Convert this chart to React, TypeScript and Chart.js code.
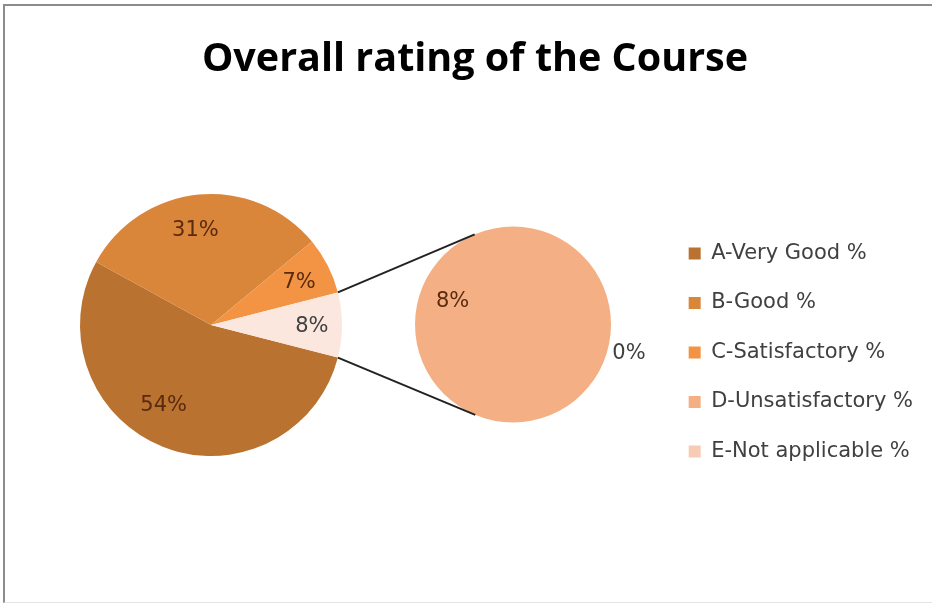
import React, { useEffect, useRef } from 'react';
import { Chart, registerables } from 'chart.js';

Chart.register(...registerables);

const W = 932;
const H = 604;

const TITLE = 'Overall rating of the Course';
const categories = ['A-Very Good %', 'B-Good %', 'C-Satisfactory %', 'D-Unsatisfactory %', 'E-Not applicable %'];
const values = [54, 31, 7, 8, 0];
const categoryColors = ['#B9722F', '#D9853A', '#F39444', '#F4B084', '#F7CBB4'];
// Pie-of-pie: the last N categories are moved into the secondary pie
const secondaryCount = 2;
const otherLabel = 'Other';
const otherColor = '#FBE7DE';

const primaryLabels = [...categories.slice(0, categories.length - secondaryCount), otherLabel];
const primaryValues = [
  ...values.slice(0, values.length - secondaryCount),
  values.slice(values.length - secondaryCount).reduce((a, b) => a + b, 0),
];
const primaryColors = [...categoryColors.slice(0, categoryColors.length - secondaryCount), otherColor];
const secondaryLabels = categories.slice(categories.length - secondaryCount);
const secondaryValues = values.slice(values.length - secondaryCount);
const secondaryColors = categoryColors.slice(categoryColors.length - secondaryCount);

const LABEL_FONT = '21px "DejaVu Sans"';
const DARK = '#5A2A0E';
const GRAY = '#404040';

type Place = { shift: number; f: number; color: string };

function makeLabelPlugin(id: string, places: Place[]) {
  return {
    id,
    afterDatasetsDraw(chart: any) {
      const meta = chart.getDatasetMeta(0);
      const data = chart.data.datasets[0].data as number[];
      const ctx = chart.ctx as CanvasRenderingContext2D;
      ctx.save();
      ctx.font = LABEL_FONT;
      ctx.textAlign = 'center';
      ctx.textBaseline = 'middle';
      meta.data.forEach((arc: any, i: number) => {
        const p = arc.getProps(['x', 'y', 'startAngle', 'endAngle', 'outerRadius'], true);
        const pl = places[i];
        const mid = (p.startAngle + p.endAngle) / 2 + (pl.shift * Math.PI) / 180;
        const r = p.outerRadius * pl.f;
        ctx.fillStyle = pl.color;
        ctx.fillText(`${data[i]}%`, p.x + r * Math.cos(mid), p.y + r * Math.sin(mid));
      });
      ctx.restore();
    },
  };
}

function makeConnectorPlugin(getSecondary: () => any) {
  return {
    id: 'connectors',
    afterDraw(chart: any) {
      const sec = getSecondary();
      if (!sec) return;
      const meta = chart.getDatasetMeta(0);
      const other = meta.data[meta.data.length - 1];
      const p = other.getProps(['x', 'y', 'startAngle', 'endAngle', 'outerRadius'], true);
      const s = sec.getDatasetMeta(0).data[0].getProps(['x', 'y', 'outerRadius'], true);
      const ends = [
        { a: p.startAngle, upper: true },
        { a: p.endAngle, upper: false },
      ];
      const ctx = chart.ctx as CanvasRenderingContext2D;
      ctx.save();
      ctx.strokeStyle = '#222222';
      ctx.lineWidth = 2;
      ends.forEach(({ a, upper }) => {
        const x0 = p.x + p.outerRadius * Math.cos(a);
        const y0 = p.y + p.outerRadius * Math.sin(a);
        const dx = x0 - s.x;
        const dy = y0 - s.y;
        const d = Math.hypot(dx, dy);
        const phi = Math.atan2(dy, dx);
        const t = Math.acos(Math.min(1, s.outerRadius / d));
        const ang = upper ? phi + t : phi - t;
        ctx.beginPath();
        ctx.moveTo(x0, y0);
        ctx.lineTo(s.x + s.outerRadius * Math.cos(ang), s.y + s.outerRadius * Math.sin(ang));
        ctx.stroke();
      });
      ctx.restore();
    },
  };
}

export default function App() {
  const frameRef = useRef<HTMLCanvasElement>(null);
  const secRef = useRef<HTMLCanvasElement>(null);
  const mainRef = useRef<HTMLCanvasElement>(null);

  useEffect(() => {
    document.body.style.margin = '0';

    const frame = new Chart(frameRef.current!, {
      type: 'pie',
      data: {
        labels: categories,
        datasets: [{ data: values, backgroundColor: categoryColors, borderWidth: 0, hidden: true }],
      },
      options: {
        responsive: false,
        animation: false,
        layout: { padding: { left: 27, right: 9, top: 36.5, bottom: 2 } },
        plugins: {
          tooltip: { enabled: false },
          title: {
            display: true,
            text: TITLE,
            color: '#000000',
            font: { family: 'Open Sans', weight: 'bold', size: 39.5 },
            padding: { top: 0, bottom: 19 },
          },
          legend: {
            position: 'right',
            fullSize: false,
            labels: {
              boxWidth: 12,
              boxHeight: 12,
              padding: 28.5,
              color: GRAY,
              font: { family: 'DejaVu Sans', size: 21 },
            },
          },
        },
      },
    } as any);

    const sec = new Chart(secRef.current!, {
      type: 'pie',
      data: {
        labels: secondaryLabels,
        datasets: [{ data: secondaryValues, backgroundColor: secondaryColors, borderWidth: 0 }],
      },
      options: {
        responsive: false,
        animation: false,
        rotation: 107,
        radius: 98,
        layout: { padding: { left: 94, right: 0, top: 45, bottom: 0 } },
        plugins: { legend: { display: false }, title: { display: false }, tooltip: { enabled: false } },
      },
      plugins: [
        makeLabelPlugin('secLabels', [
          { shift: 4, f: 0.66, color: DARK },
          { shift: -3, f: 1.22, color: GRAY },
        ]),
      ],
    } as any);

    const total = primaryValues.reduce((a, b) => a + b, 0);
    const otherShare = primaryValues[primaryValues.length - 1] / total;

    const main = new Chart(mainRef.current!, {
      type: 'pie',
      data: {
        labels: primaryLabels,
        datasets: [{ data: primaryValues, backgroundColor: primaryColors, borderWidth: 0 }],
      },
      options: {
        responsive: false,
        animation: false,
        rotation: 90 + 180 * otherShare,
        radius: 131,
        layout: { padding: { left: 0, right: 510, top: 46, bottom: 0 } },
        plugins: { legend: { display: false }, title: { display: false }, tooltip: { enabled: false } },
      },
      plugins: [
        makeLabelPlugin('mainLabels', [
          { shift: 9, f: 0.71, color: DARK },
          { shift: -4, f: 0.73, color: DARK },
          { shift: 1.5, f: 0.745, color: DARK },
          { shift: 0.6, f: 0.77, color: GRAY },
        ]),
        makeConnectorPlugin(() => sec),
      ],
    } as any);

    return () => {
      main.destroy();
      sec.destroy();
      frame.destroy();
    };
  }, []);

  const abs: React.CSSProperties = { position: 'absolute', left: 0, top: 0, display: 'block' };

  return (
    <div style={{ position: 'fixed', left: 0, top: 0, width: W, height: H, overflow: 'hidden', background: '#ffffff' }}>
      <div
        style={{
          position: 'absolute',
          left: 3,
          top: 4,
          width: 945,
          height: 599,
          boxSizing: 'border-box',
          borderLeft: '2px solid #8c8c8c',
          borderTop: '2px solid #8c8c8c',
          borderBottom: '1px solid #e4e4e4',
        }}
      />
      <canvas ref={frameRef} width={W} height={H} style={abs} />
      <canvas ref={secRef} width={W} height={H} style={abs} />
      <canvas ref={mainRef} width={W} height={H} style={abs} />
    </div>
  );
}
